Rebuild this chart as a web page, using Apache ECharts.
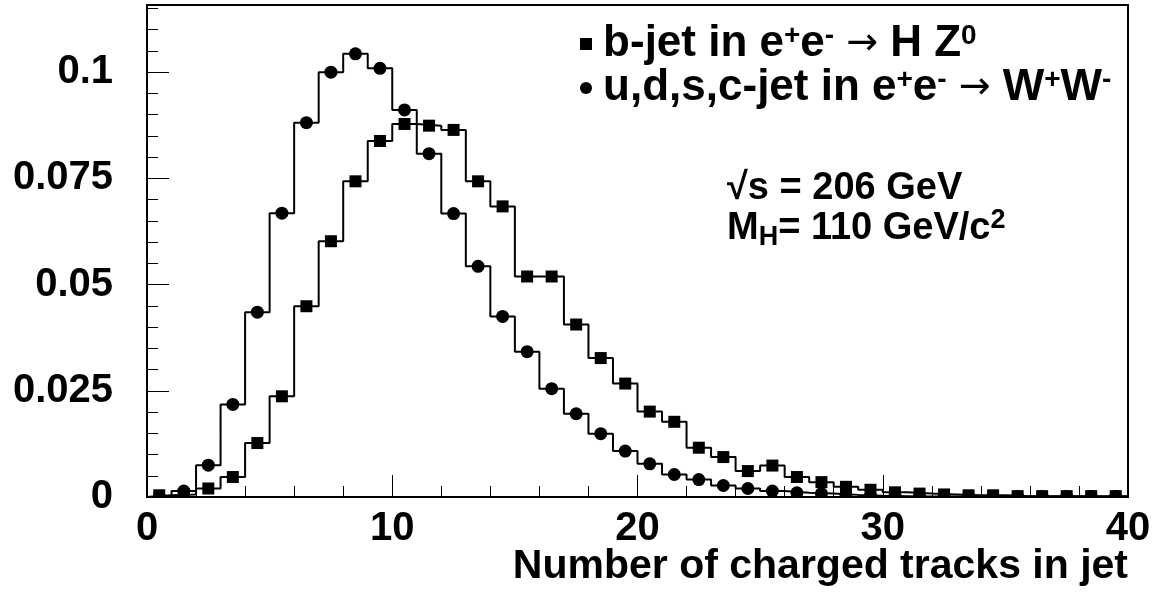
<!DOCTYPE html>
<html>
<head>
<meta charset="utf-8">
<style>
html,body{margin:0;padding:0;background:#fff;}
#c{width:1162px;height:600px;}
</style>
<script src="https://cdn.jsdelivr.net/npm/echarts@6/dist/echarts.min.js"></script>
</head>
<body>
<div id="c"></div>
<script>
// Bin lower edges (bins of width 1 from 0 to 40)
const binLow = [0,1,2,3,4,5,6,7,8,9,10,11,12,13,14,15,16,17,18,19,20,21,22,23,24,25,26,27,28,29,30,31,32,33,34,35,36,37,38,39];
// b-jet in e+e- -> H Z0 (squares)
const bjet = [0.0004,0.0006,0.0020,0.0047,0.0127,0.0237,0.0449,0.0602,0.0743,0.0838,
              0.0878,0.0874,0.0864,0.0743,0.0684,0.0519,0.0519,0.0406,0.0327,0.0267,
              0.0201,0.0177,0.0116,0.0094,0.0061,0.0074,0.0047,0.0035,0.0024,0.0017,
              0.0011,0.0008,0.0006,0.0004,0.0004,0.0002,0.0002,0.0002,0.0002,0.0002];
// u,d,s,c-jet in e+e- -> W+W- (circles)
const udsc = [0.0001,0.0014,0.0075,0.0218,0.0435,0.0668,0.0881,0.1000,0.1043,0.1009,
              0.0911,0.0808,0.0667,0.0543,0.0425,0.0342,0.0255,0.0196,0.0149,0.0108,
              0.0078,0.0053,0.0041,0.0027,0.0020,0.0014,0.0010,0.0008,0.0005,0.0003,
              0.0002,0.0001,0.0001,0.0001,0.0001,0.0001,0.0001,0.0001,0.0001,0.0001];
const xTicks = [0,10,20,30,40];
const yTicks = ['0','0.025','0.05','0.075','0.1'];

const FONT = 'Liberation Sans, Arial, Helvetica, sans-serif';

function stepData(vals){
  const out = [[binLow[0], 0]];
  vals.forEach((v,i)=>{ out.push([binLow[i], v]); out.push([binLow[i]+1, v]); });
  out.push([binLow[binLow.length-1]+1, 0]);
  return out;
}
function pointData(vals){
  return vals.map((v,i)=>[binLow[i]+0.5, v]);
}

const chart = echarts.init(document.getElementById('c'), null, {renderer:'canvas'});
const YMAX = 0.1158;

const option = {
  animation:false,
  backgroundColor:'#fff',
  color:['#000'],
  title:{
    text:'Number of charged tracks in jet', right:34, top:546, padding:0,
    textStyle:{fontSize:41,fontWeight:'bold',fontFamily:FONT,color:'#000'}
  },
  grid:{left:147,right:34,top:5,bottom:103,show:true,borderColor:'#000',borderWidth:2,
        backgroundColor:'transparent',containLabel:false,outerBoundsMode:'none'},
  legend:{
    orient:'vertical', left:580, top:22, padding:0, itemGap:0,
    itemWidth:12, itemHeight:12,
    selectedMode:false,
    data:[{name:'b-jet',icon:'rect'},{name:'udsc-jet',icon:'circle'}],
    formatter:function(name){
      if(name==='b-jet') return '{p| }{t|b-jet in e}{sup|+}{t|e}{sup|-}{ar| \u2192 }{t|H Z}{sup|0}';
      return '{p| }{t|u,d,s,c-jet in e}{sup|+}{t|e}{sup|-}{ar| \u2192 }{t|W}{sup|+}{t|W}{sup|-}';
    },
    textStyle:{
      color:'#000',
      rich:{
        p:{fontSize:22,fontFamily:FONT,lineHeight:44},
        t:{fontSize:44,fontWeight:'bold',fontFamily:FONT,lineHeight:44,color:'#000'},
        sup:{fontSize:28,fontWeight:'bold',fontFamily:FONT,lineHeight:26,verticalAlign:'top',color:'#000'},
        ar:{fontSize:38,fontWeight:'normal',fontFamily:'DejaVu Sans',lineHeight:44,color:'#000'}
      }
    }
  },
  graphic:[
    {type:'text', left:727, top:170, style:{
      text:'{t|\u221As = 206 GeV}',
      rich:{t:{fontSize:38,fontWeight:'bold',fontFamily:FONT,lineHeight:40,fill:'#000'}}
    }},
    {type:'text', left:727, top:207, style:{
      text:'{t|M}{sub|H}{t|= 110 GeV/c}{sup|2}',
      rich:{
        t:{fontSize:38,fontWeight:'bold',fontFamily:FONT,lineHeight:44,fill:'#000'},
        sub:{fontSize:27,fontWeight:'bold',fontFamily:FONT,lineHeight:24,verticalAlign:'bottom',fill:'#000'},
        sup:{fontSize:27,fontWeight:'bold',fontFamily:FONT,lineHeight:24,verticalAlign:'top',fill:'#000'}
      }
    }}
  ],
  xAxis:[{
    type:'value', min:xTicks[0], max:xTicks[xTicks.length-1], interval:10,
    axisLine:{show:false},
    axisTick:{show:true,inside:true,length:22,lineStyle:{color:'#000',width:1}},
    minorTick:{show:true,splitNumber:5,length:11,lineStyle:{color:'#000',width:1}},
    splitLine:{show:false}, minorSplitLine:{show:false},
    axisLabel:{fontSize:40,fontWeight:'bold',fontFamily:FONT,color:'#000',margin:12}
  }],
  yAxis:[{
    type:'value', min:0, max:YMAX, interval:0.025, position:'left',
    axisLine:{show:false},
    axisTick:{show:true,inside:true,length:22,lineStyle:{color:'#000',width:1}},
    splitLine:{show:false},
    axisLabel:{fontSize:40,fontWeight:'bold',fontFamily:FONT,color:'#000',margin:34,showMaxLabel:false,
      formatter:function(v){ const s = yTicks.find(t=>Math.abs(parseFloat(t)-v)<1e-9); return s===undefined?'':s; }}
  },{
    type:'value', min:0, max:YMAX, interval:0.005, position:'left', offset:0,
    axisLine:{show:false},
    axisTick:{show:true,inside:true,length:11,lineStyle:{color:'#000',width:1}},
    splitLine:{show:false},
    axisLabel:{show:false}
  }],
  series:[
    {name:'b-jet-hist', type:'line', data:stepData(bjet), showSymbol:false, symbol:'none', clip:true,
     lineStyle:{color:'#000',width:2}, z:2},
    {name:'udsc-hist', type:'line', data:stepData(udsc), showSymbol:false, symbol:'none', clip:true,
     lineStyle:{color:'#000',width:2}, z:2},
    {name:'b-jet', type:'custom', data:pointData(bjet), clip:true, z:3,
     itemStyle:{color:'#000'},
     encode:{x:0,y:1},
     renderItem:function(params, api){
       const p = api.coord([api.value(0), api.value(1)]);
       return {type:'rect', shape:{x:p[0]-6,y:p[1]-6,width:12,height:12}, style:{fill:'#000'}};
     }},
    {name:'udsc-jet', type:'custom', data:pointData(udsc), clip:true, z:3,
     itemStyle:{color:'#000'},
     encode:{x:0,y:1},
     renderItem:function(params, api){
       const p = api.coord([api.value(0), api.value(1)]);
       return {type:'circle', shape:{cx:p[0],cy:p[1],r:6.5}, style:{fill:'#000'}};
     }}
  ]
};
chart.setOption(option);
</script>
</body>
</html>
